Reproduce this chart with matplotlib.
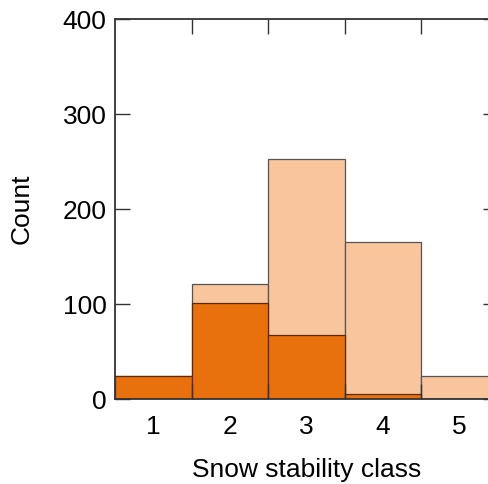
import numpy as np
import matplotlib.pyplot as plt

plt.rcParams['font.family'] = ['Liberation Sans', 'DejaVu Sans']

# stability classes and counts
classes = [1, 2, 3, 4, 5]
total_counts = [24, 121, 253, 165, 25]
subset_counts = [24, 101, 68, 6, 0]

fig = plt.figure(figsize=(4.88, 4.84), dpi=100)
ax = fig.add_axes([0.2357, 0.175, 0.7838, 0.7857])

ax.bar(classes, total_counts, width=1.0, color='#F8C59C', edgecolor='#555555', linewidth=0.9)
ax.bar(classes, subset_counts, width=1.0, color='#E8710E', edgecolor='#5a2a05', linewidth=0.9)

ax.set_xlim(0.5, 5.5)
ax.set_ylim(0, 400)
ax.set_xticks(classes)
ax.set_xticks([1.5, 2.5, 3.5, 4.5], minor=True)
ax.set_yticks([0, 100, 200, 300, 400])

ax.tick_params(axis='x', which='major', length=0, labelsize=19, pad=11)
ax.tick_params(axis='x', which='minor', direction='in', length=11, width=1.0,
               top=True, bottom=True, color='#333333')
ax.tick_params(axis='y', which='major', direction='in', length=11, width=1.0,
               left=True, right=True, labelsize=19, pad=6, color='#333333')

for s in ax.spines.values():
    s.set_color('#333333')
    s.set_linewidth(1.3)

ax.set_xlabel('Snow stability class', fontsize=19, labelpad=14)
ax.set_ylabel('Count', fontsize=19, labelpad=21)

fig.savefig('out.png', dpi=100)
